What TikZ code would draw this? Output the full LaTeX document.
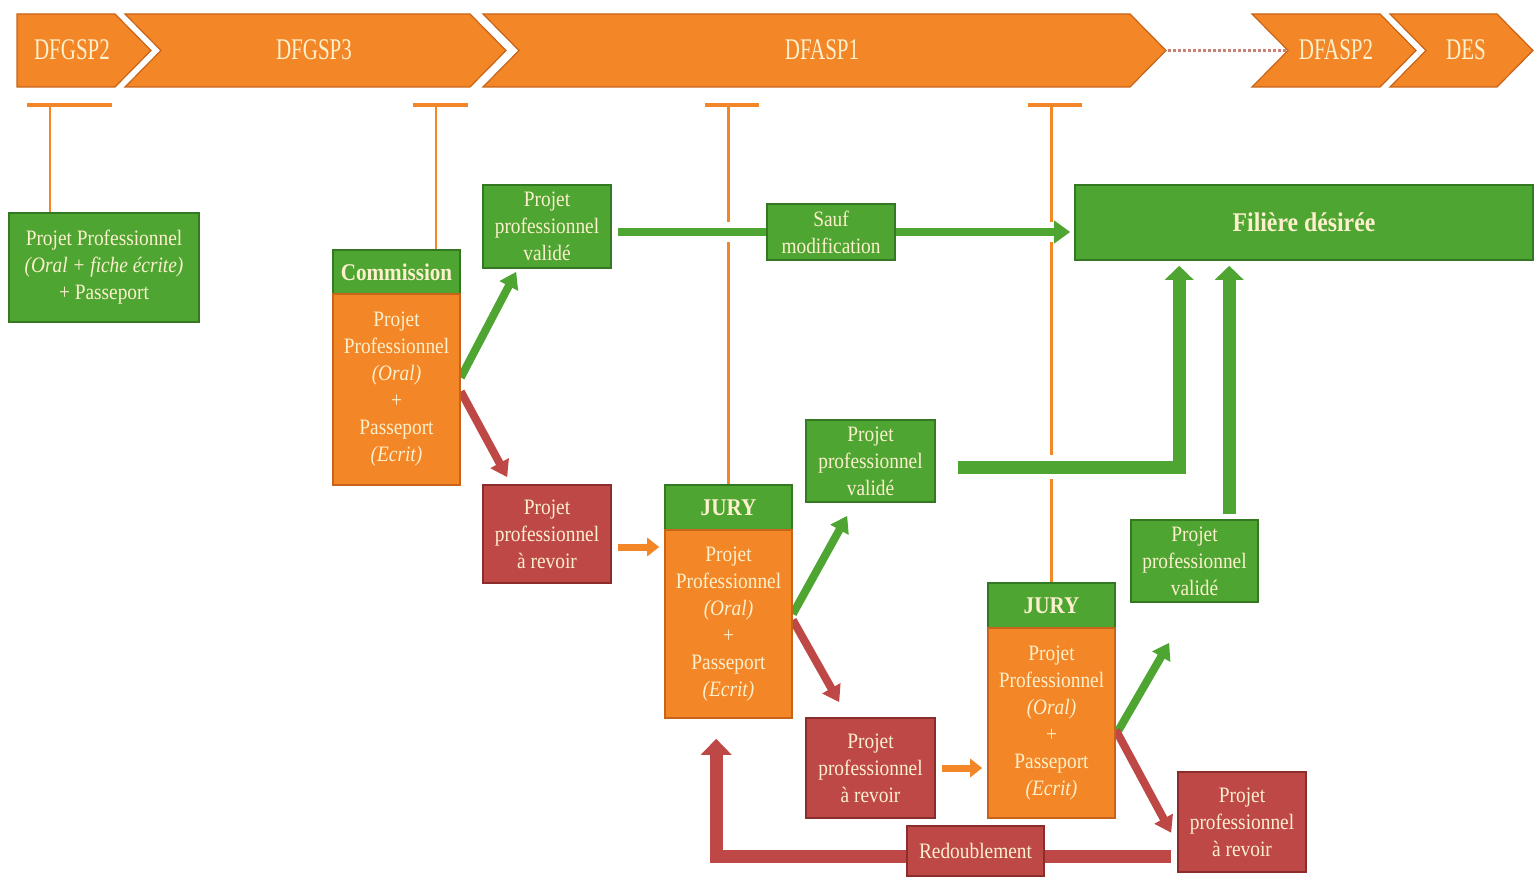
\documentclass[tikz,border=0pt]{standalone}
\usepackage{fontspec}
\setmainfont{Liberation Serif}[FakeStretch=0.88]
\newfontfamily\chevfont{Liberation Serif}[FakeStretch=0.7]
\usetikzlibrary{arrows.meta,calc,backgrounds}

\definecolor{ofill}{RGB}{243,134,38}
\definecolor{odark}{RGB}{200,100,25}
\definecolor{gfill}{RGB}{78,165,50}
\definecolor{gdark}{RGB}{52,120,34}
\definecolor{rfill}{RGB}{190,72,70}
\definecolor{rdark}{RGB}{140,45,45}
\definecolor{txt}{RGB}{252,240,205}
\definecolor{dotc}{RGB}{200,130,120}

\begin{document}
\begin{tikzpicture}[x=0.5pt, y=-0.5pt,
    box/.style={rectangle, draw, line width=0.8pt, inner sep=0pt, align=center, text=txt, font=\fontsize{11}{13.5}\selectfont},
    gbox/.style={box, fill=gfill, draw=gdark},
    rbox/.style={box, fill=rfill, draw=rdark},
    obox/.style={box, fill=ofill, draw=odark},
    head/.style={gbox, font=\fontsize{12}{14}\selectfont\bfseries},
    chev/.style={fill=ofill, draw=odark, line width=0.6pt},
    chevtext/.style={text=txt, font=\chevfont\fontsize{15}{18}\selectfont},
    tline/.style={draw=ofill, line width=1.2pt},
    halo/.style={preaction={draw=white, line width=#1}},
    garrow/.style={draw=gfill, line width=4pt, -{Triangle[length=8pt,width=10pt]}},
    rarrow/.style={draw=rfill, line width=4pt, -{Triangle[length=8pt,width=10pt]}},
    oarrow/.style={draw=ofill, line width=3.5pt, -{Triangle[length=6pt,width=9pt]}}]
    \useasboundingbox (0,0) rectangle (1535,877);

    % Define years
    \draw[chev] (17,14) -- (115,14) -- (151,50.5) -- (115,87) -- (17,87) -- cycle;
    \draw[chev] (125,14) -- (470,14) -- (506,50.5) -- (470,87) -- (125,87) -- (161,50.5) -- cycle;
    \draw[chev] (483,14) -- (1130,14) -- (1166,50.5) -- (1130,87) -- (483,87) -- (519,50.5) -- cycle;
    \draw[chev] (1252,14) -- (1380,14) -- (1416,50.5) -- (1380,87) -- (1252,87) -- (1288,50.5) -- cycle;
    \draw[chev] (1390,14) -- (1497,14) -- (1533,50.5) -- (1497,87) -- (1390,87) -- (1426,50.5) -- cycle;
    \node[chevtext] (dfgsp2) at (72,50) {DFGSP2};
    \node[chevtext] (dfgsp3) at (314,50) {DFGSP3};
    \node[chevtext] (dfasp1) at (822,50) {DFASP1};
    \node[chevtext] (dfasp2) at (1336,50) {DFASP2};
    \node[chevtext] (des) at (1466,50) {DES};
    \coordinate (tip1) at (1168,50.5);
    \coordinate (notch4) at (1286,50.5);
    \draw[densely dotted, draw=dotc, line width=1.5pt] (tip1) -- (notch4);

    % Define boxes
    \node[gbox, minimum width=95pt, minimum height=54.5pt] (pp0) at (104,267.5)
        {Projet Professionnel\\\textit{(Oral + fiche écrite)}\\+ Passeport};
    \node[head, minimum width=63.5pt, minimum height=22pt] (comhead) at (396.5,272) {Commission};
    \node[obox, minimum width=63.5pt, minimum height=95.5pt] (combody) at (396.5,389.5)
        {Projet\\Professionnel\\\textit{(Oral)}\\+\\Passeport\\\textit{(Ecrit)}};
    \node[gbox, minimum width=64pt, minimum height=41.5pt] (val1) at (547,226.5)
        {Projet\\professionnel\\validé};
    \node[rbox, minimum width=64pt, minimum height=49pt] (rev1) at (547,534)
        {Projet\\professionnel\\à revoir};
    \node[gbox, minimum width=64pt, minimum height=28pt] (sauf) at (831,232)
        {Sauf\\modification};
    \node[gbox, minimum width=229pt, minimum height=37.5pt, font=\fontsize{13.5}{16}\selectfont\bfseries] (filiere) at (1304,222.5)
        {Filière désirée};
    \node[head, minimum width=63.5pt, minimum height=22.5pt] (jury1head) at (728.5,507.5) {JURY};
    \node[obox, minimum width=63.5pt, minimum height=94pt] (jury1body) at (728.5,624)
        {Projet\\Professionnel\\\textit{(Oral)}\\+\\Passeport\\\textit{(Ecrit)}};
    \node[gbox, minimum width=64.5pt, minimum height=41pt] (val2) at (870.5,461)
        {Projet\\professionnel\\validé};
    \node[rbox, minimum width=64.5pt, minimum height=50pt] (rev2) at (870.5,768)
        {Projet\\professionnel\\à revoir};
    \node[head, minimum width=63.5pt, minimum height=22.5pt] (jury2head) at (1051.5,605.5) {JURY};
    \node[obox, minimum width=63.5pt, minimum height=95pt] (jury2body) at (1051.5,723)
        {Projet\\Professionnel\\\textit{(Oral)}\\+\\Passeport\\\textit{(Ecrit)}};
    \node[gbox, minimum width=63.5pt, minimum height=41pt] (val3) at (1194.5,561)
        {Projet\\professionnel\\validé};
    \node[rbox, minimum width=64pt, minimum height=50pt] (rev3) at (1242,822)
        {Projet\\professionnel\\à revoir};
    \node[rbox, minimum width=68.5pt, minimum height=25pt] (redoub) at (975.5,851)
        {Redoublement};

    % Draw links
    \begin{scope}[on background layer]
        \coordinate (t1) at (50,105);
        \coordinate (t2) at (436,105);
        \coordinate (t3) at (728.5,105);
        \coordinate (t4) at (1051.5,105);
        \draw[tline] (t1) -- (t1 |- pp0.north);
        \draw[tline] (t2) -- (t2 |- comhead.north);
        \draw[tline] (t3) -- (jury1head.north);
        \draw[tline] (t4) -- (jury2head.north);
        \draw[tline, line width=2pt] (27,105) -- (112,105);
        \draw[tline, line width=2pt] (413,105) -- (468,105);
        \draw[tline, line width=2pt] (705,105) -- (759,105);
        \draw[tline, line width=2pt] (1028,105) -- (1082,105);

        \draw[garrow] ($(combody.east)+(0,-12)$) -- ($(val1.south west)+(34,3)$);
        \draw[rarrow] ($(combody.east)+(0,2)$) -- ($(rev1.north west)+(25,-7)$);
        \draw[draw=gfill, line width=4pt, halo=10pt, shorten <=3pt] (val1.east |- sauf.west) -- (sauf.west);
        \draw[garrow, halo=10pt, -{Triangle[length=8pt,width=11pt]}, shorten >=2pt] (sauf.east) -- (sauf.east -| filiere.west);
        \draw[oarrow, shorten <=3pt, shorten >=2.5pt] ([yshift=-6.5pt]rev1.east) -- ([yshift=-6.5pt]rev1.east -| jury1body.west);

        \draw[garrow] ($(jury1body.east)+(0,-10)$) -- ($(val2.south west)+(42,13)$);
        \draw[rarrow] ($(jury1body.east)+(0,-4)$) -- ($(rev2.north west)+(34,-15)$);
        \draw[garrow, halo=12pt, line width=6.5pt, -{Triangle[length=7pt,width=14pt]}, shorten <=11pt]
            ([yshift=-3pt]val2.east) -| ($(filiere.south west)+(105,5)$);
        \draw[garrow, line width=6.5pt, -{Triangle[length=7pt,width=14pt]}]
            ($(val3.north west)+(99,-5)$) -- ($(filiere.south west)+(155,5)$);
        \draw[oarrow, shorten <=3pt, shorten >=2.5pt] (rev2.east) -- (rev2.east -| jury2body.west);

        \draw[garrow] ($(jury2body.east)+(0,12)$) -- ($(val3.south west)+(39,40)$);
        \draw[rarrow] ($(jury2body.east)+(0,7)$) -- ($(rev3.south west)+(-6,-40)$);
        \draw[rarrow, line width=6.5pt, -{Triangle[length=8pt,width=15pt]}, shorten <=3pt]
            ([yshift=-17pt]rev3.west) -| ($(jury1body.south west)+(52,20)$);
    \end{scope}
\end{tikzpicture}
\end{document}
